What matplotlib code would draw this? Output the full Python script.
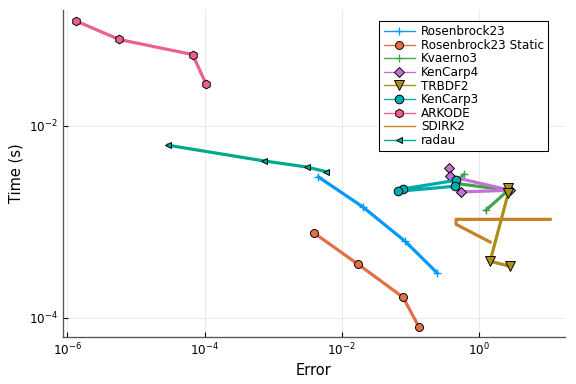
import matplotlib
matplotlib.use("Agg")
import matplotlib.pyplot as plt

# error / time data
ros23_err = [4.53e-3, 0.0201, 0.0832, 0.241]
ros23_t = [2.94e-3, 1.43e-3, 6.26e-4, 2.95e-4]

ros23s_err = [3.92e-3, 0.0172, 0.0778, 0.133]
ros23s_t = [7.64e-4, 3.6e-4, 1.63e-4, 7.92e-5]

kv3_err = [0.603, 0.446, 2.64, 1.25]
kv3_t = [3.13e-3, 2.52e-3, 2.13e-3, 1.32e-3]

kc4_err = [0.364, 0.377, 2.82, 0.54]
kc4_t = [3.65e-3, 2.98e-3, 2.13e-3, 2.05e-3]

trbdf2_err = [2.64, 2.64, 1.44, 2.82]
trbdf2_t = [2.24e-3, 1.98e-3, 3.87e-4, 3.43e-4]

kc3_err = [0.46, 0.0769, 0.0664, 0.446]
kc3_t = [2.71e-3, 2.2e-3, 2.08e-3, 2.35e-3]

arkode_err = [1.36e-6, 5.7e-6, 6.7e-5, 1.04e-4]
arkode_t = [0.124, 0.0798, 0.0556, 0.0277]

sdirk2_err = [1.44, 0.46, 0.46, 10.8]
sdirk2_t = [6.15e-4, 9.4e-4, 1.06e-3, 1.06e-3]

radau_err = [2.94e-5, 7.4e-4, 3.07e-3, 5.8e-3]
radau_t = [6.29e-3, 4.31e-3, 3.73e-3, 3.34e-3]

fig = plt.figure(figsize=(6, 4), dpi=96)
ax = fig.add_axes([0.109, 0.123, 0.872, 0.851])

lw = 2.4
mk = dict(markeredgecolor="black", markeredgewidth=0.7)

ax.plot(ros23_err, ros23_t, color="#009AFA", lw=lw, marker="+", ms=6,
        markeredgecolor="#009AFA", label="Rosenbrock23")
ax.plot(ros23s_err, ros23s_t, color="#E36F47", lw=lw, marker="o", ms=6,
        label="Rosenbrock23 Static", **mk)
ax.plot(kv3_err, kv3_t, color="#3EA44E", lw=lw, marker="+", ms=6,
        markeredgecolor="#3EA44E", label="Kvaerno3")
ax.plot(kc4_err, kc4_t, color="#C371D2", lw=lw, marker="D", ms=5,
        label="KenCarp4", **mk)
ax.plot(trbdf2_err, trbdf2_t, color="#AC8E18", lw=lw, marker="v", ms=7,
        label="TRBDF2", **mk)
ax.plot(kc3_err, kc3_t, color="#00AAAE", lw=lw, marker="o", ms=6.5,
        label="KenCarp3", **mk)
ax.plot(arkode_err, arkode_t, color="#ED5E93", lw=lw, marker="h", ms=6.5,
        label="ARKODE", **mk)
ax.plot(sdirk2_err, sdirk2_t, color="#C68225", lw=lw, label="SDIRK2")
ax.plot(radau_err, radau_t, color="#00A98D", lw=lw, marker="<", ms=4.5,
        label="radau", **mk)

ax.set_xscale("log")
ax.set_yscale("log")
ax.set_xlim(10 ** -6.066, 10 ** 1.25)
ax.set_ylim(10 ** -4.2, 10 ** -0.79)
ax.set_xticks([1e-6, 1e-4, 1e-2, 1e0])
ax.set_yticks([1e-4, 1e-2])
ax.minorticks_off()
ax.tick_params(direction="in", length=4, labelsize=9, width=0.8)
ax.grid(True, color="black", alpha=0.08, lw=0.8)
for s in ["top", "right"]:
    ax.spines[s].set_visible(False)
for s in ["left", "bottom"]:
    ax.spines[s].set_color("#555555")
    ax.spines[s].set_linewidth(1.0)

ax.set_xlabel("Error", fontsize=11)
ax.set_ylabel("Time (s)", fontsize=11)

leg = ax.legend(loc="upper right", bbox_to_anchor=(0.966, 0.966), fontsize=9,
                fancybox=False, edgecolor="black", framealpha=1,
                handlelength=2.6, labelspacing=0.05, borderpad=0.35,
                handletextpad=0.5, borderaxespad=0)
leg.get_frame().set_linewidth(0.8)
for line in leg.get_lines():
    line.set_linewidth(1.0)

fig.savefig("out.png", dpi=96)
